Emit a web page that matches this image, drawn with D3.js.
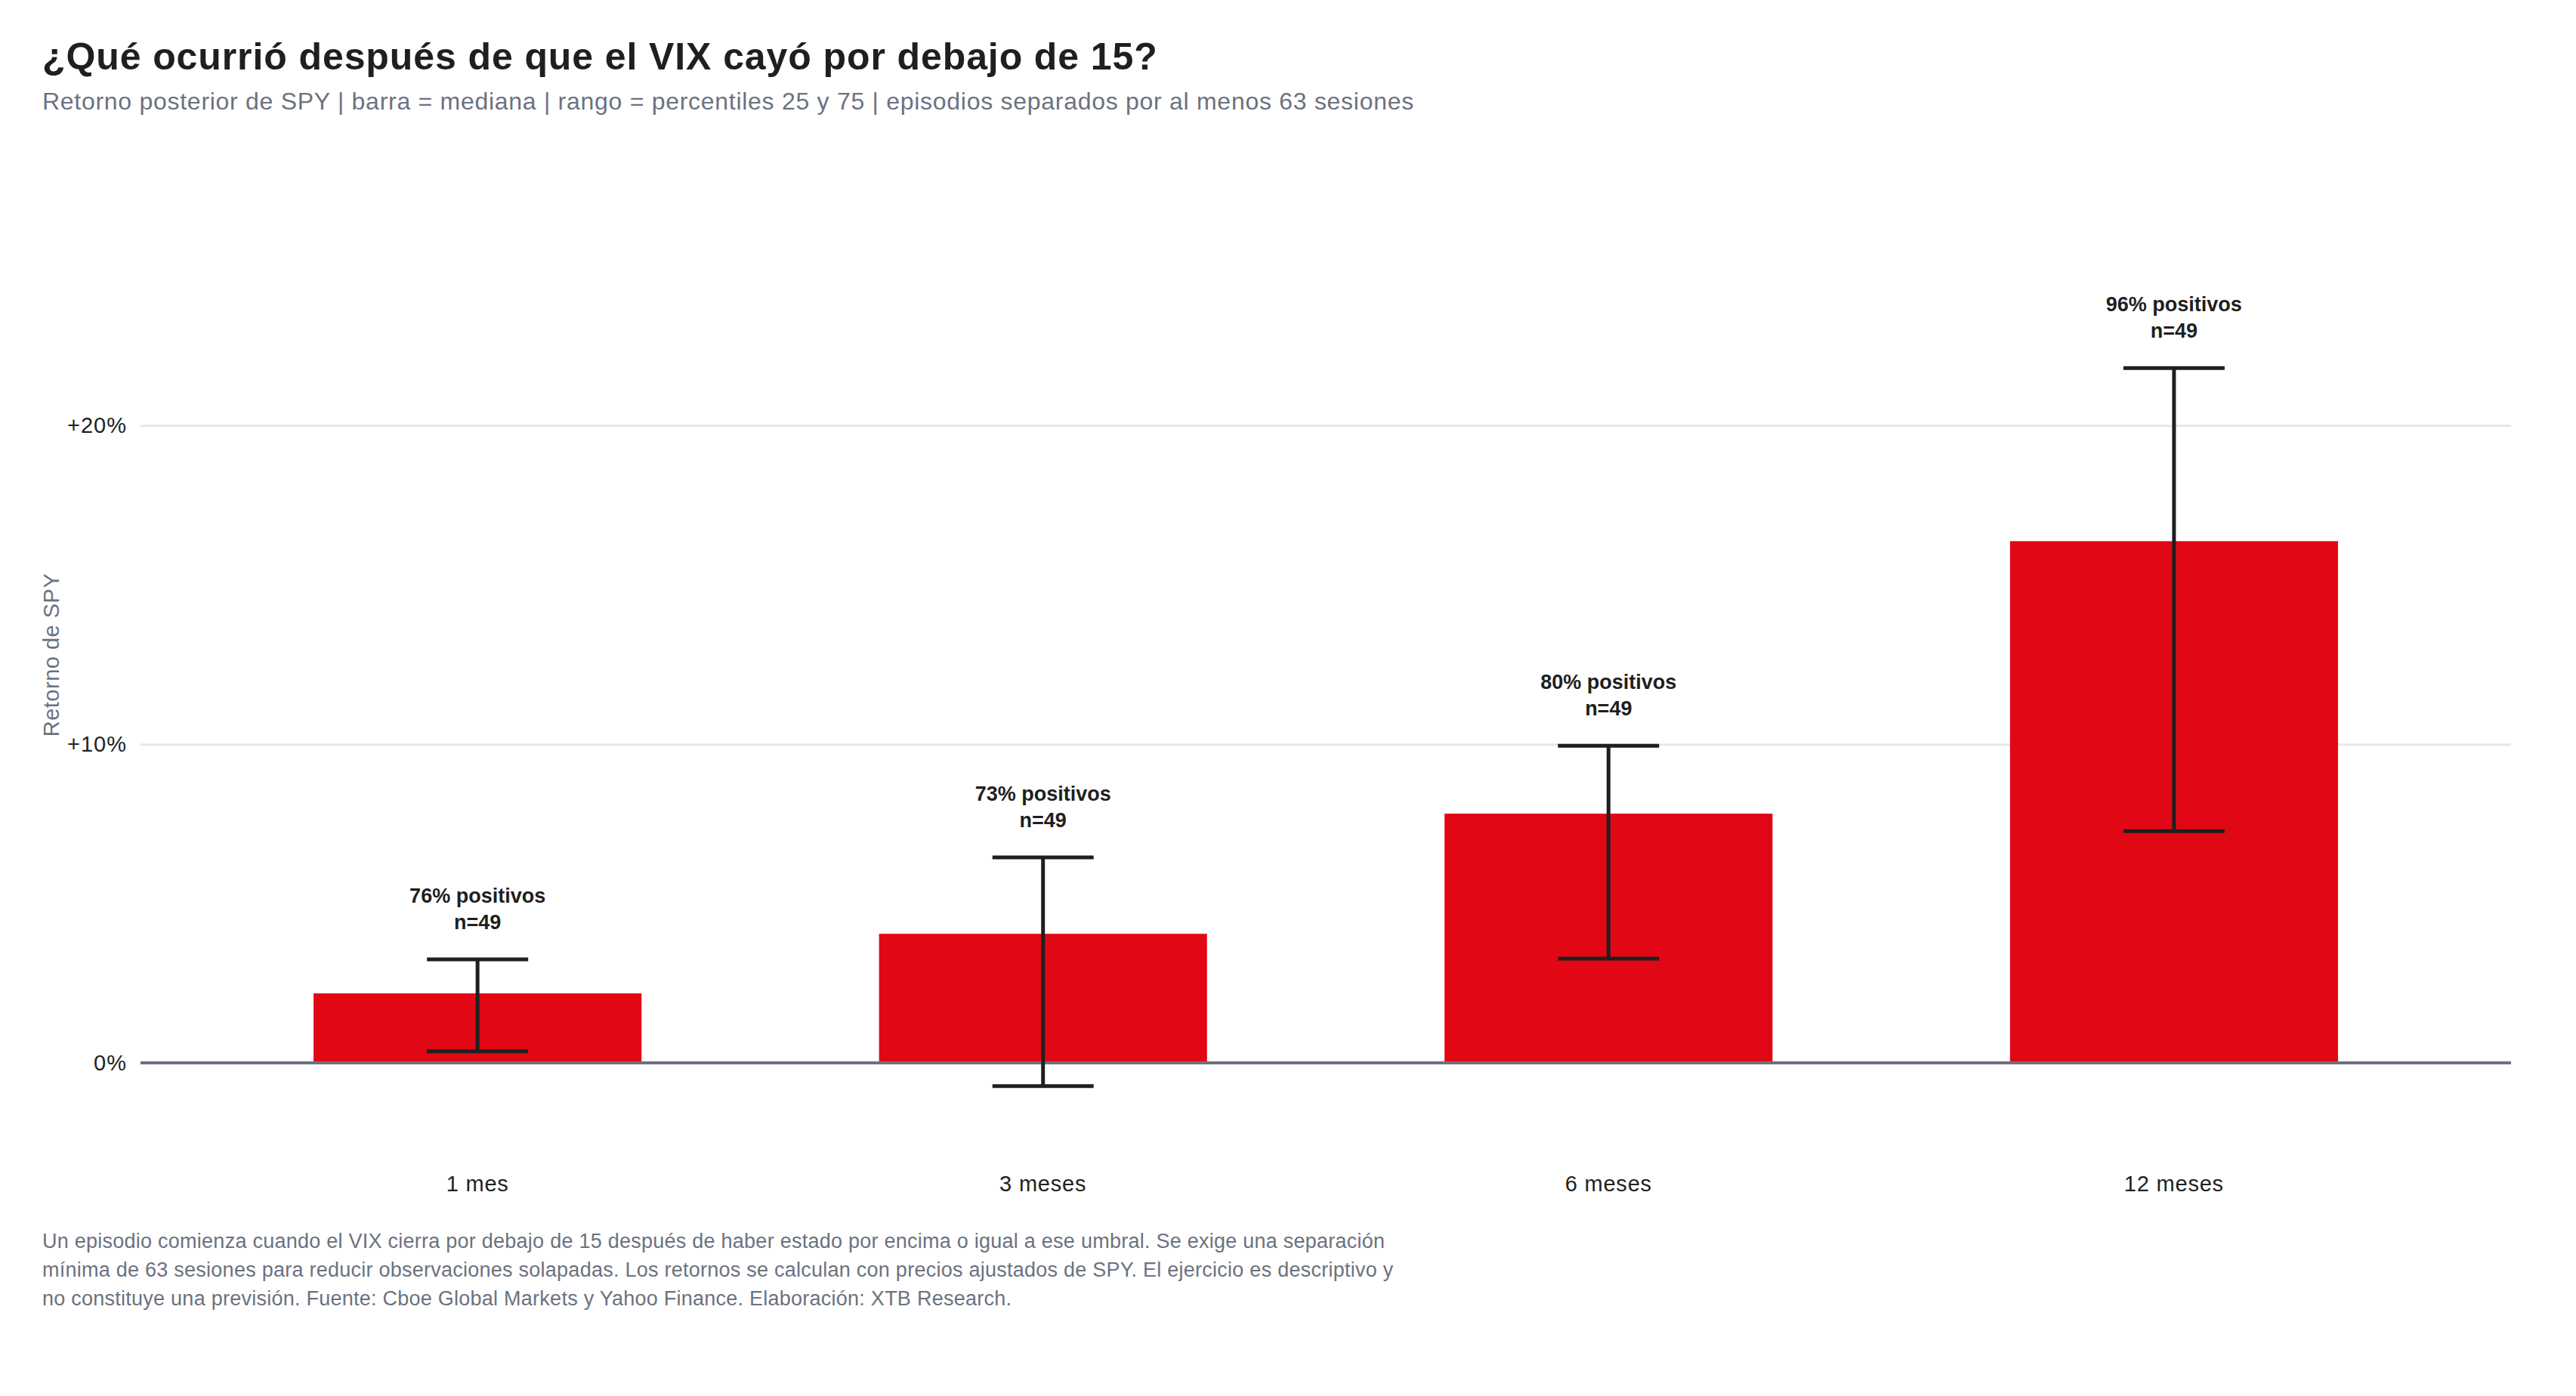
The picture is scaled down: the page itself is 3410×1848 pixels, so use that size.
<!DOCTYPE html>
<html>
<head>
<meta charset="utf-8">
<script src="https://cdn.jsdelivr.net/npm/d3@7"></script>
<style>
  body { margin: 0; background: #fff; }
  text { font-family: "Liberation Sans", Arial, sans-serif; }
</style>
</head>
<body>
<div id="viz"></div>
<script>
// data (percent returns)
let horizons = ["1 mes", "3 meses", "6 meses", "12 meses"];
let medians = [2.18, 4.05, 7.82, 16.37];
let p25 = [0.36, -0.73, 3.27, 7.27];
let p75 = [3.25, 6.45, 9.95, 21.8];
let positives = [76, 73, 80, 96];
let counts = [49, 49, 49, 49];
let yTicks = [0, 10, 20];

let titleText = "¿Qué ocurrió después de que el VIX cayó por debajo de 15?";
let subtitleText = "Retorno posterior de SPY | barra = mediana | rango = percentiles 25 y 75 | episodios separados por al menos 63 sesiones";
let noteLines = [
  "Un episodio comienza cuando el VIX cierra por debajo de 15 después de haber estado por encima o igual a ese umbral. Se exige una separación",
  "mínima de 63 sesiones para reducir observaciones solapadas. Los retornos se calculan con precios ajustados de SPY. El ejercicio es descriptivo y",
  "no constituye una previsión. Fuente: Cboe Global Markets y Yahoo Finance. Elaboración: XTB Research."
];

let width = 3410;
let height = 1848;
let margin = { left: 186, right: 86, top: 192, bottom: 306 };

let data = horizons.map((h, i) => ({
  h: h,
  med: medians[i],
  lo: p25[i],
  hi: p75[i],
  pos: positives[i],
  n: counts[i]
}));

let svg = d3.select("#viz")
  .append("svg")
  .attr("width", width)
  .attr("height", height);

let x = d3.scaleBand()
  .domain(horizons)
  .range([margin.left, width - margin.right])
  .paddingInner(0.42)
  .paddingOuter(0.306);

let y = d3.scaleLinear()
  .domain([-3.2, 28.8])
  .range([height - margin.bottom, margin.top]);

// title + subtitle
svg.append("text")
  .attr("x", 56).attr("y", 92)
  .attr("font-size", 50).attr("font-weight", "bold")
  .attr("letter-spacing", 0.9)
  .attr("fill", "#1f1f1f")
  .text(titleText);

svg.append("text")
  .attr("x", 56).attr("y", 145)
  .attr("font-size", 32)
  .attr("letter-spacing", 0.72)
  .attr("fill", "#6b7280")
  .text(subtitleText);

// gridlines + y labels
let yAxis = svg.append("g")
  .attr("transform", `translate(${margin.left},0)`)
  .call(d3.axisLeft(y)
    .tickValues(yTicks)
    .tickSize(-(width - margin.left - margin.right))
    .tickPadding(18)
    .tickFormat(d => (d > 0 ? "+" : "") + d + "%"));

yAxis.select(".domain").remove();
yAxis.selectAll(".tick line")
  .attr("stroke", d => d === 0 ? "none" : "#e5e7eb")
  .attr("stroke-width", 3);
yAxis.selectAll(".tick text")
  .attr("font-size", 29)
  .attr("letter-spacing", 1)
  .attr("fill", "#222");

svg.append("text")
  .attr("transform", `translate(68,${(y.range()[0] + y.range()[1]) / 2}) rotate(-90)`)
  .attr("text-anchor", "middle")
  .attr("dy", "0.35em")
  .attr("font-size", 29)
  .attr("letter-spacing", 0.5)
  .attr("fill", "#6b7280")
  .text("Retorno de SPY");

// bars
svg.append("g")
  .selectAll("rect")
  .data(data)
  .join("rect")
  .attr("x", d => x(d.h))
  .attr("width", x.bandwidth())
  .attr("y", d => y(Math.max(0, d.med)))
  .attr("height", d => Math.abs(y(d.med) - y(0)))
  .attr("fill", "#e20714");

// zero line
svg.append("line")
  .attr("x1", margin.left).attr("x2", width - margin.right)
  .attr("y1", y(0)).attr("y2", y(0))
  .attr("stroke", "#6b7280")
  .attr("stroke-width", 4);

// error bars (p25 - p75)
let capW = 134;
let err = svg.append("g")
  .attr("stroke", "#1f1f1f")
  .attr("stroke-width", 5)
  .selectAll("g")
  .data(data)
  .join("g")
  .attr("transform", d => `translate(${x(d.h) + x.bandwidth() / 2},0)`);

err.append("line")
  .attr("y1", d => y(d.lo)).attr("y2", d => y(d.hi));
err.append("line")
  .attr("x1", -capW / 2).attr("x2", capW / 2)
  .attr("y1", d => y(d.hi)).attr("y2", d => y(d.hi));
err.append("line")
  .attr("x1", -capW / 2).attr("x2", capW / 2)
  .attr("y1", d => y(d.lo)).attr("y2", d => y(d.lo));

// annotation above each range
let ann = svg.append("g")
  .selectAll("text")
  .data(data)
  .join("text")
  .attr("text-anchor", "middle")
  .attr("font-size", 27)
  .attr("font-weight", "bold")
  .attr("fill", "#1f1f1f")
  .attr("x", d => x(d.h) + x.bandwidth() / 2)
  .attr("y", d => y(d.hi) - 75);

ann.append("tspan")
  .attr("x", d => x(d.h) + x.bandwidth() / 2)
  .text(d => d.pos + "% positivos");
ann.append("tspan")
  .attr("x", d => x(d.h) + x.bandwidth() / 2)
  .attr("dy", 35)
  .text(d => "n=" + d.n);

// x labels
svg.append("g")
  .selectAll("text")
  .data(horizons)
  .join("text")
  .attr("x", d => x(d) + x.bandwidth() / 2)
  .attr("y", 1577)
  .attr("text-anchor", "middle")
  .attr("font-size", 29)
  .attr("letter-spacing", 0.8)
  .attr("fill", "#222")
  .text(d => d);

// footnote
svg.append("g")
  .selectAll("text")
  .data(noteLines)
  .join("text")
  .attr("x", 56)
  .attr("y", (d, i) => 1652 + i * 38)
  .attr("font-size", 27)
  .attr("letter-spacing", 0.25)
  .attr("fill", "#6b7280")
  .text(d => d);
</script>
</body>
</html>
